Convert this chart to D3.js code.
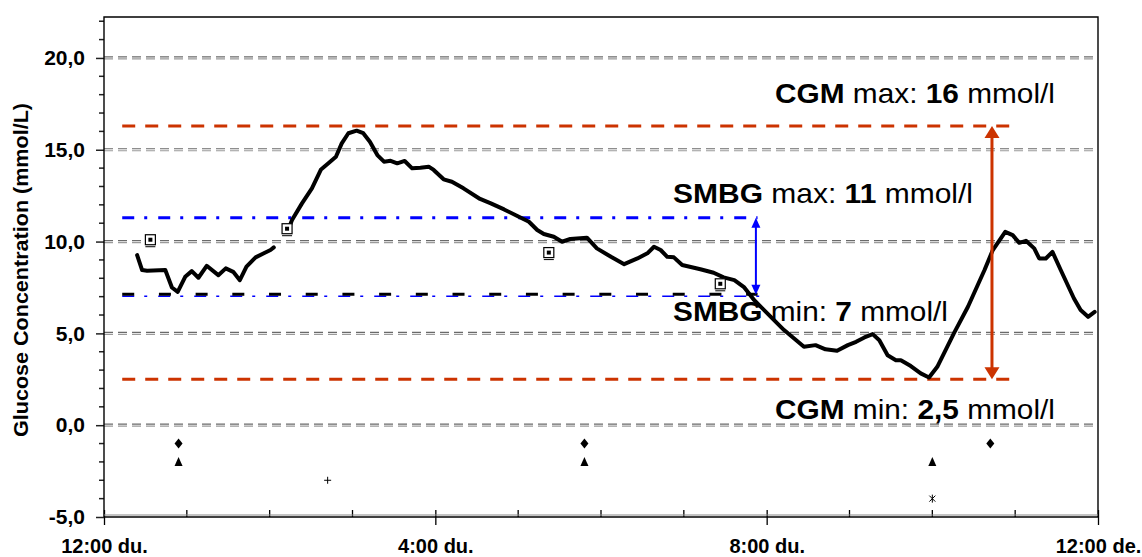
<!DOCTYPE html>
<html>
<head>
<meta charset="utf-8">
<script src="https://cdn.jsdelivr.net/npm/d3@7"></script>
<style>
  body { margin: 0; background: #fff; }
  svg { font-family: 'Liberation Sans', Arial, sans-serif; display: block; }
</style>
</head>
<body>
<svg width="1142" height="557"></svg>
<script>
// CGM trace, hours after 12:00 du. (null = sensor gap)
const cgmHours = [0.40, 0.46, 0.52, 0.74, 0.82, 0.89, 0.98, 1.06, 1.14, 1.24,
  1.38, 1.47, 1.56, 1.64, 1.72, 1.83, 1.93, 2.01, 2.05, 2.14,
  2.24, 2.27, 2.39, 2.51, 2.62, 2.73, 2.80, 2.87, 2.95, 3.05,
  3.13, 3.21, 3.30, 3.38, 3.46, 3.54, 3.63, 3.72, 3.82, 3.92,
  3.98, 4.10, 4.20, 4.34, 4.54, 4.67, 4.83, 4.99, 5.13, 5.23,
  5.31, 5.43, 5.53, 5.63, 5.83, 5.95, 6.12, 6.28, 6.44, 6.56,
  6.64, 6.72, 6.80, 6.88, 6.98, 7.20, 7.36, 7.48, 7.61, 7.73,
  7.85, 8.05, 8.21, 8.45, 8.59, 8.71, 8.85, 8.98, 9.08, 9.18,
  9.28, 9.36, 9.46, 9.56, 9.62, 9.74, 9.86, 9.96, 10.06, 10.26,
  10.43, 10.63, 10.73, 10.88, 10.97, 11.05, 11.13, 11.23, 11.29, 11.37,
  11.45, 11.55, 11.71, 11.79, 11.88, 11.96];
const cgmValues = [9.26, 8.45, 8.41, 8.45, 7.50, 7.26, 8.08, 8.39, 8.03, 8.68,
  8.17, 8.54, 8.35, 7.90, 8.63, 9.14, 9.36, 9.54, 9.68, null,
  10.84, 11.17, 12.08, 12.90, 13.93, 14.35, 14.62, 15.35, 15.90, 16.04,
  15.90, 15.44, 14.71, 14.35, 14.40, 14.26, 14.39, 13.99, 14.02, 14.08,
  13.90, 13.39, 13.26, 12.90, 12.32, 12.08, 11.75, 11.39, 11.08, 10.63,
  10.41, 10.26, 9.99, 10.14, 10.21, 9.63, 9.17, 8.77, 9.08, 9.36,
  9.72, 9.54, 9.17, 9.14, 8.72, 8.49, 8.30, 8.05, 7.90, 7.50,
  6.81, 5.90, 5.18, 4.27, 4.36, 4.13, 4.05, 4.36, 4.54, 4.78,
  4.96, 4.63, 3.81, 3.54, 3.54, 3.22, 2.82, 2.60, 3.18, 5.00,
  6.45, 8.45, 9.54, 10.53, 10.35, 9.93, 10.04, 9.63, 9.08, 9.08,
  9.44, 8.45, 6.90, 6.27, 5.90, 6.17];

// finger-stick (SMBG) readings
const smbgHours = [0.56, 2.21, 5.37, 7.44];
const smbgValues = [10.1, 10.7, 9.4, 7.7];

// event markers below zero
const diamondHours = [0.9, 5.8, 10.7];
const diamondValues = [-1, -1, -1];
const triangleHours = [0.9, 5.8, 10.0];
const triangleValues = [-2, -2, -2];
const plusHours = [2.7];
const plusValues = [-3];
const starHours = [10.0];
const starValues = [-4];

// summary ranges
const cgmMax = 16.3, cgmMin = 2.5;
const smbgMax = 11.3, smbgMin = 7.1;
const cgmLineStart = 0.22, cgmLineEnd = 10.95, cgmArrowAt = 10.72;
const smbgLineEnd = 7.89, smbgArrowAt = 7.87;

const xTicks = [0, 4, 8, 12];
const xTickLabels = ['12:00 du.', '4:00 du.', '8:00 du.', '12:00 de.'];
const yTicks = [-5, 0, 5, 10, 15, 20];
const yTickLabels = ['-5,0', '0,0', '5,0', '10,0', '15,0', '20,0'];
const gridValues = [0, 5, 10, 15, 20];

const svg = d3.select('svg');
const plotLeft = 104, plotRight = 1098, plotTop = 17, plotBottom = 517;

const x = d3.scaleLinear().domain([0, 12]).range([plotLeft, plotRight]);
const y = d3.scaleLinear().domain([-5, 22.23]).range([plotBottom, plotTop]);

const orange = '#cc3300';
const blue = '#0000ff';

// gridlines (drawn as a double dashed line)
const grid = svg.append('g');
gridValues.forEach(v => {
  grid.append('line')
    .attr('x1', plotLeft).attr('x2', plotRight - 3)
    .attr('y1', y(v) - 1).attr('y2', y(v) - 1)
    .attr('stroke', '#6a6a6a').attr('stroke-width', 1.2)
    .attr('stroke-dasharray', '9,5');
  grid.append('line')
    .attr('x1', plotLeft).attr('x2', plotRight - 3)
    .attr('y1', y(v) + 1).attr('y2', y(v) + 1)
    .attr('stroke', '#9a9a9a').attr('stroke-width', 1.2)
    .attr('stroke-dasharray', '9,5');
});

// CGM range lines
[cgmMax, cgmMin].forEach(v => {
  svg.append('line')
    .attr('x1', x(cgmLineStart)).attr('x2', x(cgmLineEnd))
    .attr('y1', y(v)).attr('y2', y(v))
    .attr('stroke', orange).attr('stroke-width', 3)
    .attr('stroke-dasharray', '13,10');
});

// SMBG range lines
svg.append('line')
  .attr('x1', x(cgmLineStart)).attr('x2', x(smbgLineEnd))
  .attr('y1', y(smbgMax)).attr('y2', y(smbgMax))
  .attr('stroke', blue).attr('stroke-width', 3)
  .attr('stroke-dasharray', '12,10,3,11');
svg.append('line')
  .attr('x1', x(cgmLineStart)).attr('x2', x(smbgLineEnd) + 6)
  .attr('y1', y(smbgMin) + 1.5).attr('y2', y(smbgMin) + 1.5)
  .attr('stroke', blue).attr('stroke-width', 1.5)
  .attr('stroke-dasharray', '12,10,3,11');
svg.append('line')
  .attr('x1', x(cgmLineStart)).attr('x2', x(smbgLineEnd))
  .attr('y1', y(smbgMin) - 0.5).attr('y2', y(smbgMin) - 0.5)
  .attr('stroke', '#000').attr('stroke-width', 3)
  .attr('stroke-dasharray', '12,24.7');

// annotations
const notes = [
  { parts: [['CGM', 'bold'], [' max: ', 'normal'], ['16', 'bold'], [' mmol/l', 'normal']], x: 775, y: 103, len: 280 },
  { parts: [['SMBG', 'bold'], [' max: ', 'normal'], ['11', 'bold'], [' mmol/l', 'normal']], x: 673, y: 203, len: 300 },
  { parts: [['SMBG', 'bold'], [' min: ', 'normal'], ['7', 'bold'], [' mmol/l', 'normal']], x: 673, y: 321, len: 275 },
  { parts: [['CGM', 'bold'], [' min: ', 'normal'], ['2,5', 'bold'], [' mmol/l', 'normal']], x: 775, y: 419, len: 280 }
];
notes.forEach(n => {
  const t = svg.append('text')
    .attr('x', n.x).attr('y', n.y)
    .attr('font-size', 28)
    .attr('textLength', n.len)
    .attr('lengthAdjust', 'spacingAndGlyphs')
    .style('white-space', 'pre');
  n.parts.forEach(p => t.append('tspan').attr('font-weight', p[1]).text(p[0]));
});

// CGM trace
const cgmData = cgmHours.map((h, i) => ({ h, v: cgmValues[i] }));
const line = d3.line()
  .defined(d => d.v !== null)
  .x(d => x(d.h))
  .y(d => y(d.v));
svg.append('path')
  .datum(cgmData)
  .attr('d', line)
  .attr('fill', 'none')
  .attr('stroke', '#000')
  .attr('stroke-width', 4)
  .attr('stroke-linejoin', 'round')
  .attr('stroke-linecap', 'round');

// SMBG squares
smbgHours.forEach((h, i) => {
  const cx = x(h), cy = y(smbgValues[i]);
  const g = svg.append('g');
  g.append('rect').attr('x', cx - 5).attr('y', cy - 5).attr('width', 10).attr('height', 10)
    .attr('fill', '#fff').attr('stroke', '#000').attr('stroke-width', 1.2);
  g.append('rect').attr('x', cx - 2).attr('y', cy - 2).attr('width', 4).attr('height', 4)
    .attr('fill', '#000');
  g.append('line').attr('x1', cx - 5).attr('x2', cx + 5).attr('y1', cy + 7).attr('y2', cy + 7)
    .attr('stroke', '#000').attr('stroke-width', 1);
});

// event markers
diamondHours.forEach((h, i) => {
  const cx = x(h), cy = y(diamondValues[i]);
  svg.append('path')
    .attr('d', `M${cx},${cy - 5}L${cx + 4},${cy}L${cx},${cy + 5}L${cx - 4},${cy}Z`)
    .attr('fill', '#000');
});
triangleHours.forEach((h, i) => {
  const cx = x(h), cy = y(triangleValues[i]);
  svg.append('path')
    .attr('d', `M${cx},${cy - 5}L${cx + 4},${cy + 4}L${cx - 4},${cy + 4}Z`)
    .attr('fill', '#000');
});
plusHours.forEach((h, i) => {
  const cx = x(h), cy = y(plusValues[i]);
  svg.append('path')
    .attr('d', `M${cx - 3.5},${cy}H${cx + 3.5}M${cx},${cy - 3.5}V${cy + 3.5}`)
    .attr('stroke', '#000').attr('stroke-width', 1);
});
starHours.forEach((h, i) => {
  const cx = x(h), cy = y(starValues[i]);
  svg.append('path')
    .attr('d', `M${cx - 3},${cy - 3}L${cx + 3},${cy + 3}M${cx + 3},${cy - 3}L${cx - 3},${cy + 3}M${cx},${cy - 4}V${cy + 4}`)
    .attr('stroke', '#000').attr('stroke-width', 1);
});

// double-headed arrows
const arrow = (ax, v1, v2, color, sw, hw, hh) => {
  const y1 = y(v1), y2 = y(v2);
  svg.append('line')
    .attr('x1', ax).attr('x2', ax)
    .attr('y1', y1 + hh - 1).attr('y2', y2 - hh + 1)
    .attr('stroke', color).attr('stroke-width', sw);
  svg.append('path')
    .attr('d', `M${ax},${y1}L${ax + hw / 2},${y1 + hh}L${ax - hw / 2},${y1 + hh}Z`)
    .attr('fill', color);
  svg.append('path')
    .attr('d', `M${ax},${y2}L${ax + hw / 2},${y2 - hh}L${ax - hw / 2},${y2 - hh}Z`)
    .attr('fill', color);
};
arrow(x(smbgArrowAt), smbgMax, smbgMin, blue, 2, 9, 10);
arrow(x(cgmArrowAt), cgmMax, cgmMin, orange, 3, 15, 12);

// y axis
const yAxisG = svg.append('g')
  .attr('transform', `translate(${plotLeft},0)`)
  .call(d3.axisLeft(y)
    .tickValues(yTicks)
    .tickFormat((d, i) => yTickLabels[i])
    .tickSizeInner(8)
    .tickSizeOuter(0)
    .tickPadding(11));
yAxisG.select('.domain').remove();
yAxisG.selectAll('.tick line').attr('stroke', '#222').attr('stroke-width', 1.5);
yAxisG.selectAll('.tick text')
  .attr('font-size', 21)
  .attr('font-weight', 'bold')
  .attr('font-family', "'Liberation Sans', Arial, sans-serif")
  .attr('fill', '#000');
d3.range(-4, 23).filter(v => v % 5 !== 0).forEach(v => {
  svg.append('line')
    .attr('x1', plotLeft - 5).attr('x2', plotLeft)
    .attr('y1', y(v)).attr('y2', y(v))
    .attr('stroke', '#222').attr('stroke-width', 1.5);
});

// x axis
const xAxisG = svg.append('g')
  .attr('transform', `translate(0,${plotBottom})`)
  .call(d3.axisBottom(x)
    .tickValues(xTicks)
    .tickFormat((d, i) => xTickLabels[i])
    .tickSizeInner(8)
    .tickSizeOuter(0)
    .tickPadding(14));
xAxisG.select('.domain').remove();
xAxisG.selectAll('.tick line').attr('y1', -7).attr('stroke', '#000').attr('stroke-width', 1.3);
xAxisG.selectAll('.tick text')
  .attr('font-size', 20)
  .attr('font-weight', 'bold')
  .attr('font-family', "'Liberation Sans', Arial, sans-serif")
  .attr('fill', '#000');
d3.range(1, 12).filter(h => h % 4 !== 0).forEach(h => {
  svg.append('line')
    .attr('x1', x(h)).attr('x2', x(h))
    .attr('y1', plotBottom - 7).attr('y2', plotBottom)
    .attr('stroke', '#000').attr('stroke-width', 1.3);
});

// frame
svg.append('path')
  .attr('d', `M${plotLeft},${plotBottom}V${plotTop}H${plotRight}V${plotBottom}`)
  .attr('fill', 'none').attr('stroke', '#000').attr('stroke-width', 1.4);
svg.append('line')
  .attr('x1', plotLeft).attr('x2', plotRight)
  .attr('y1', plotBottom).attr('y2', plotBottom)
  .attr('stroke', '#000').attr('stroke-width', 1.6);
svg.append('line')
  .attr('x1', plotLeft).attr('x2', plotRight)
  .attr('y1', plotBottom - 2).attr('y2', plotBottom - 2)
  .attr('stroke', '#888').attr('stroke-width', 1);

// y title
svg.append('text')
  .attr('transform', 'translate(28,270) rotate(-90)')
  .attr('text-anchor', 'middle')
  .attr('font-size', 21)
  .attr('font-weight', 'bold')
  .attr('textLength', 334)
  .attr('lengthAdjust', 'spacingAndGlyphs')
  .text('Glucose Concentration (mmol/L)');
</script>
</body>
</html>
